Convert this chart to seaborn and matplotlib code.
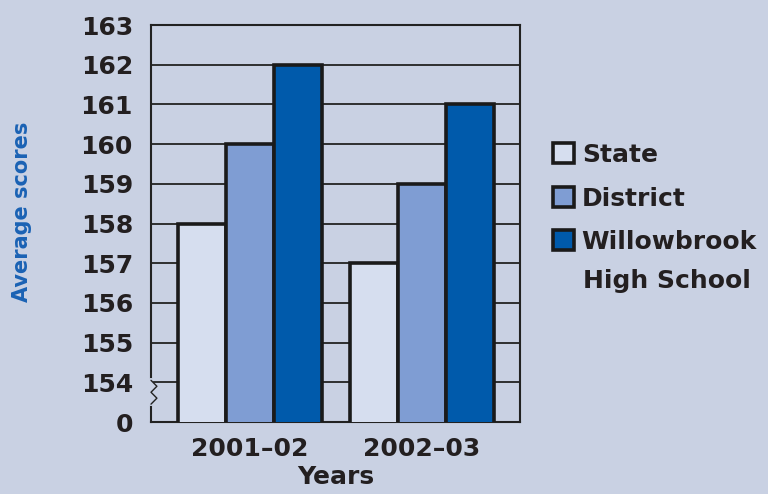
import matplotlib
matplotlib.use("Agg")
import matplotlib.pyplot as plt
import seaborn as sns
import pandas as pd
from matplotlib.patches import Patch
from matplotlib.lines import Line2D

years = ["2001\u201302", "2002\u201303"]
groups = ["State", "District", "Willowbrook"]
state = [158, 157]
district = [160, 159]
willowbrook = [162, 161]
ytick_vals = [153, 154, 155, 156, 157, 158, 159, 160, 161, 162, 163]
ytick_labels = ["0", "154", "155", "156", "157", "158", "159", "160", "161", "162", "163"]

colors = {"State": "#d6deef", "District": "#7f9dd3", "Willowbrook": "#005aab"}
bg = "#c9d1e3"
txt = "#231f20"

rows = []
for i, y in enumerate(years):
    rows.append((y, "State", state[i]))
    rows.append((y, "District", district[i]))
    rows.append((y, "Willowbrook", willowbrook[i]))
df = pd.DataFrame(rows, columns=["year", "group", "score"])

sns.set_style("white")
plt.rcParams["font.family"] = ["DejaVu Sans"]

fig = plt.figure(figsize=(7.68, 4.94), dpi=100, facecolor=bg)
ax = fig.add_axes([151/768, 1-422/494, (520-151)/768, (422-25)/494])
ax.set_facecolor(bg)

sns.barplot(data=df, x="year", y="score", hue="group", hue_order=groups,
            palette=colors, saturation=1, width=0.837, edgecolor="#1a1a1a",
            linewidth=2.6, ax=ax, legend=False, zorder=3)

ax.set_xlim(-0.576, 1.57)
ax.set_ylim(153, 163)
ax.set_yticks(ytick_vals)
ax.set_yticklabels(ytick_labels)
ax.yaxis.grid(True, color="#222222", linewidth=1.3)
ax.set_axisbelow(True)
for s in ax.spines.values():
    s.set_color("#222222")
    s.set_linewidth(1.5)
    s.set_visible(True)
ax.tick_params(axis="both", length=0, labelsize=18, labelcolor=txt)
ax.tick_params(axis="y", pad=13)
ax.tick_params(axis="x", pad=11)
for lab in ax.get_xticklabels() + ax.get_yticklabels():
    lab.set_fontweight("heavy")
ax.set_ylabel("")
ax.set_xlabel("Years", fontsize=18, fontweight="heavy", color=txt, labelpad=3)

# axis break marker
ax.add_line(Line2D([0.0, 0.0], [0.045, 0.105], transform=ax.transAxes,
                   color=bg, linewidth=3, zorder=5, clip_on=False))
ax.add_line(Line2D([0.0, 0.016, 0.0, 0.016, 0.0],
                   [0.045, 0.06, 0.075, 0.09, 0.105], transform=ax.transAxes,
                   color="#222222", linewidth=1.0, zorder=6, clip_on=False))

fig.text(22/768, 1-212/494, "Average scores", rotation=90, ha="center",
         va="center", fontsize=15, fontweight="heavy", color="#1a62b4")

handles = [Patch(facecolor=colors[g], edgecolor="#1a1a1a", linewidth=2.6) for g in groups]
leg = fig.legend(handles, ["State", "District", "Willowbrook"],
                 loc="upper left", bbox_to_anchor=(543/768, 1-133/494),
                 frameon=False, fontsize=18, handlelength=0.85, handleheight=0.85,
                 handletextpad=0.3, labelspacing=0.78, borderaxespad=0)
for t in leg.get_texts():
    t.set_fontweight("heavy")
    t.set_color(txt)
fig.text(583/768, 1-281/494, "High School", ha="left", va="center",
         fontsize=18, fontweight="heavy", color=txt)

fig.savefig("out.png", dpi=100, facecolor=bg)
